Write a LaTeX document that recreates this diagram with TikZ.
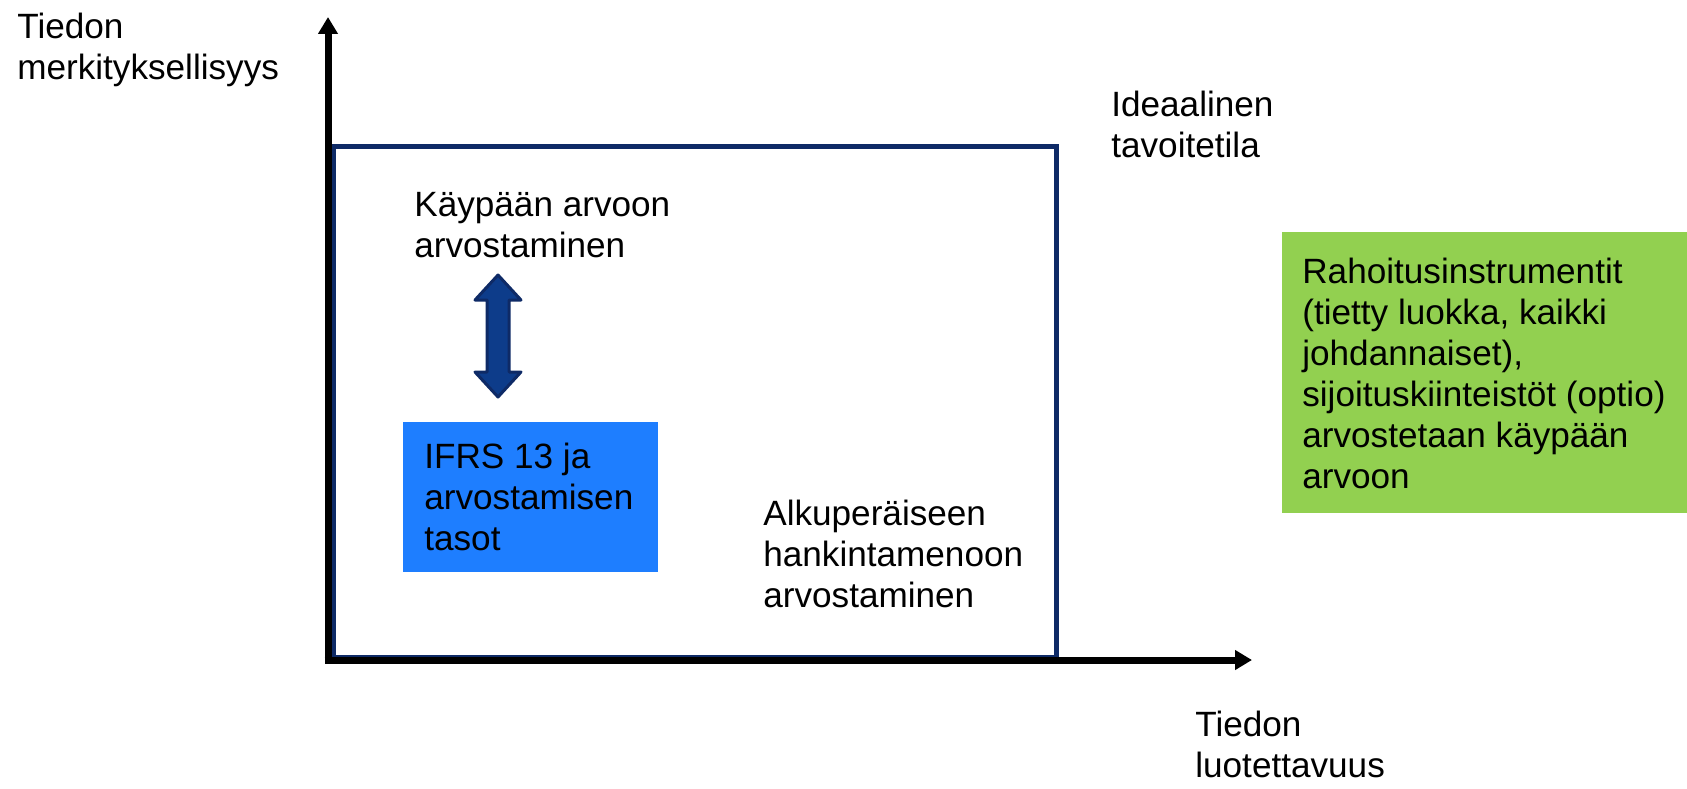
\documentclass[tikz,border=0pt]{standalone}
\usepackage{fontspec}
\setmainfont{Liberation Sans}
\usetikzlibrary{arrows.meta}
\definecolor{navy}{HTML}{0E2A66}
\definecolor{darrow}{HTML}{0D3C8A}
\definecolor{ifrsblue}{HTML}{1E7EFF}
\definecolor{leafgreen}{HTML}{92D050}

\begin{document}
\begin{tikzpicture}[x=0.02cm,y=-0.02cm,
	lbl/.style={anchor=base west,inner sep=0pt,align=left,
		font={\fontsize{20}{23.3}\selectfont}},
	axis/.style={line width=0.14cm,-{Triangle[width=0.38cm,length=0.34cm]}}]

	\useasboundingbox (0,0) rectangle (1687,788);

	\coordinate (origin) at (328,660);
	\coordinate (ytip) at (328,17);
	\coordinate (xtip) at (1252,660);

	% area of ideal state
	\draw[navy,line width=0.1cm] (333,146) rectangle (1056,657);

	% green and blue boxes
	\fill[leafgreen] (1282,232) rectangle (1687,513);
	\fill[ifrsblue] (403,422) rectangle (658,572);

	% double arrow
	\draw[fill=darrow,draw=navy,line width=0.06cm,line join=round]
		(498,275) -- (521,300) -- (509,300) -- (509,372) -- (521,372)
		-- (498,397) -- (475,372) -- (487,372) -- (487,300) -- (475,300) -- cycle;

	% axes
	\draw[axis] ([yshift=-0.07cm]origin) -- (ytip);
	\draw[axis] ([xshift=-0.07cm]origin) -- (xtip);

	% labels: anchored at baseline of last line
	\node[lbl] (ylabel) at (17,79) {Tiedon\\merkityksellisyys};
	\node[lbl] (ideal) at (1111,157) {Ideaalinen\\tavoitetila};
	\node[lbl] (fair) at (414,257) {Käypään arvoon\\arvostaminen};
	\node[lbl] (ifrs) at (424,550) {IFRS 13 ja\\arvostamisen\\tasot};
	\node[lbl] (cost) at (763,607) {Alkuperäiseen\\hankintamenoon\\arvostaminen};
	\node[lbl] (xlabel) at (1195,777) {Tiedon\\luotettavuus};
	\node[lbl] (instr) at (1302,488) {Rahoitusinstrumentit\\(tietty luokka, kaikki\\johdannaiset),\\sijoituskiinteistöt (optio)\\arvostetaan käypään\\arvoon};

\end{tikzpicture}
\end{document}
